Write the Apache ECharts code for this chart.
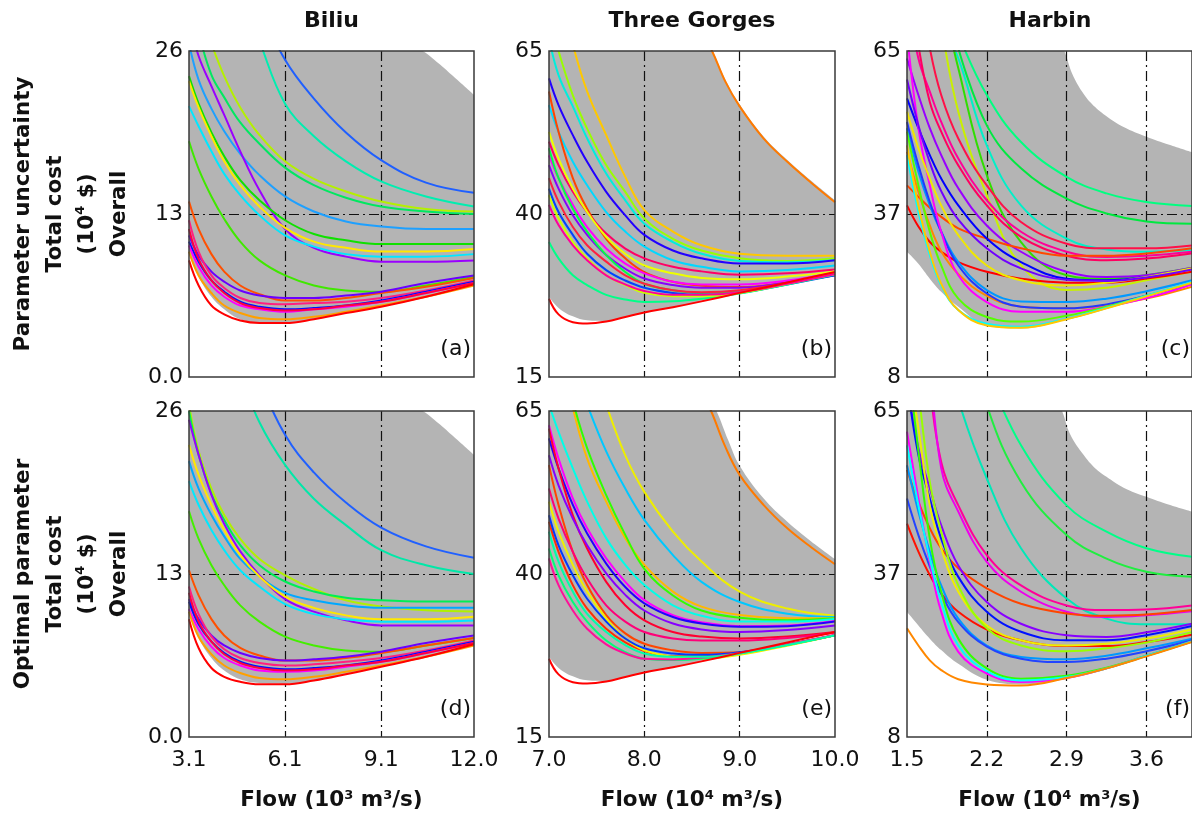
<!DOCTYPE html>
<html><head><meta charset="utf-8">
<script src="https://cdn.jsdelivr.net/npm/echarts@6/dist/echarts.min.js"></script>
<style>html,body{margin:0;padding:0;background:#fff}#c{width:1192px;height:816px}</style>
</head><body><div id="c"></div><script>
const FONT = '"DejaVu Sans", "Liberation Sans", Arial, sans-serif';

// ---------- sampling positions (flow) ----------
const biliuX  = [3.1, 3.4, 3.8, 4.2, 4.7, 5.3, 6.1, 7.0, 8.0, 9.1, 10.5, 12.0];
const gorgesX = [7.0, 7.1, 7.25, 7.4, 7.6, 7.8, 8.0, 8.3, 8.6, 9.0, 9.5, 10.0];
const harbinX = [1.5, 1.6, 1.7, 1.8, 1.95, 2.2, 2.5, 2.9, 3.25, 3.6, 4.0];

// ---------- tick labels / reference lines ----------
const biliuXTicks = [3.1, 6.1, 9.1, 12.0];
const gorgesXTicks = [7.0, 8.0, 9.0, 10.0];
const harbinXTicks = [1.5, 2.2, 2.9, 3.6];
const biliuXGrid = [6.1, 9.1];
const gorgesXGrid = [8.0, 9.0];
const harbinXGrid = [2.2, 2.9, 3.6];
const biliuYTicks = [0, 13, 26];
const gorgesYTicks = [15, 40, 65];
const harbinYTicks = [8, 36.5, 65];
const biliuYGrid = [13];
const gorgesYGrid = [40];
const harbinYGrid = [36.5];

// ---------- uncertainty bands ----------
const bandLowA = [9.9, 8.0, 6.4, 5.4, 4.6, 4.35, 4.35, 4.6, 5.1, 5.6, 6.4, 7.3];
const bandUpXA = [3.1, 9.0, 10.4, 10.9, 11.3, 12.0];
const bandUpA  = [40, 28, 26, 25.0, 24.1, 22.5];
const bandLowB = [27.3, 25.6, 24.3, 23.7, 23.6, 24.2, 24.9, 25.7, 26.6, 27.9, 29.5, 31.1];
const bandUpXB = [7.0, 8.6, 8.71, 8.85, 9.0, 9.25, 9.5, 9.75, 10.0];
const bandUpB  = [70, 67.8, 65.2, 60.6, 56.8, 51.9, 48.3, 45.1, 42.1];
const bandLowC = [29.9, 27.8, 25.2, 22.9, 20.3, 17.0, 16.5, 18.0, 19.9, 22.0, 24.4];
const bandUpXC = [1.5, 2.8, 2.88, 2.95, 3.05, 3.15, 3.25, 3.4, 3.6, 3.8, 4.0];
const bandUpC  = [80, 68, 65, 61, 57.5, 55.2, 53.6, 51.7, 50.0, 48.6, 47.3];
const bandLowD = [9.9, 7.9, 6.3, 5.3, 4.6, 4.3, 4.25, 4.5, 5.0, 5.6, 6.4, 7.3];
const bandUpXD = [3.1, 9.0, 10.4, 10.9, 11.3, 12.0];
const bandUpD  = [40, 28, 26, 25.0, 24.1, 22.5];
const bandLowE = [27.3, 25.6, 24.3, 23.7, 23.6, 24.2, 24.9, 25.7, 26.6, 27.9, 29.5, 31.1];
const bandUpXE = [7.0, 8.65, 8.75, 8.88, 9.0, 9.25, 9.5, 9.75, 10.0];
const bandUpE  = [70, 67.5, 65.2, 60.5, 56.6, 51.6, 48.0, 45.0, 42.3];
const bandLowF = [29.9, 27.5, 25.2, 23.2, 20.8, 18.0, 17.2, 18.2, 19.9, 22.0, 24.5];
const bandUpXF = [1.5, 2.78, 2.86, 2.93, 3.05, 3.15, 3.25, 3.4, 3.6, 3.8, 4.0];
const bandUpF  = [80, 68, 65, 61, 57.3, 55.0, 53.5, 51.6, 50.0, 48.6, 47.4];

// ---------- (a) Biliu, parameter uncertainty ----------
const colorsA = ['#1f5fff','#00eeb0','#b4f000','#00e860','#1ea0ff','#9a00ff','#10e000','#ffe800','#00e8ff','#40e800',
                 '#ff5000','#6a00ff','#ff2080','#0010ff','#ff00ff','#ff0040','#ffa000','#ff0000'];
const valuesA = [
  [null,null,null,null,34,29.6,25.3,22.2,19.5,17.3,15.5,14.7],
  [null,null,null,null,31,26.8,21.8,19.2,17.2,15.6,14.4,13.6],
  [null,null,26.6,24.0,21.5,19.3,17.2,15.8,14.8,14.0,13.4,13.2],
  [null,27.5,24.1,22.3,20.3,18.6,16.7,15.3,14.3,13.6,13.2,13.0],
  [26.6,23.7,21.4,19.6,17.8,16.1,14.4,13.2,12.4,12.0,11.8,11.8],
  [28.5,25.6,23.2,20.9,18.0,14.9,11.8,10.3,9.6,9.2,9.2,9.3],
  [24.0,21.8,19.5,17.6,15.7,14.1,12.5,11.4,10.9,10.6,10.6,10.6],
  [23.6,21.5,19.2,17.2,15.3,13.6,11.9,10.8,10.3,10.0,10.0,10.2],
  [21.6,20.0,18.0,16.2,14.5,12.9,11.3,10.4,9.8,9.6,9.6,9.8],
  [18.8,16.6,14.4,12.6,10.8,9.3,8.1,7.3,6.9,6.8,7.3,8.0],
  [14.0,11.8,9.8,8.4,7.3,6.6,6.1,6.1,6.3,6.7,7.2,7.9],
  [11.3,9.7,8.4,7.6,6.9,6.5,6.3,6.3,6.5,6.8,7.5,8.1],
  [12.5,10.0,8.1,7.1,6.3,5.9,5.8,5.9,6.0,6.3,6.9,7.7],
  [10.8,9.2,7.7,6.8,6.0,5.6,5.4,5.5,5.7,6.1,6.8,7.6],
  [10.5,8.8,7.3,6.4,5.7,5.4,5.2,5.4,5.6,6.0,6.7,7.5],
  [11.8,9.4,7.7,6.7,5.9,5.5,5.3,5.4,5.7,6.0,6.7,7.5],
  [10.0,8.1,6.7,5.7,5.1,4.7,4.6,4.8,5.2,5.7,6.4,7.3],
  [9.3,7.3,5.7,5.0,4.5,4.3,4.3,4.6,5.1,5.6,6.4,7.4]
];

// ---------- (b) Three Gorges, parameter uncertainty ----------
const colorsB = ['#ffc800','#99ff00','#00eedd','#2200ff','#00d8ff','#ff4400','#ff0066','#eeff00','#ff00ff','#8800ff',
                 '#00ff44','#0044ff','#00ff88','#ff2040','#ccff00','#ff0099','#ff0000'];
const valuesB = [
  [null,null,66,58.8,52.1,45.7,40.6,37.3,35.2,33.9,33.6,33.6],
  [null,65,58.2,53.1,47.5,43.4,39.3,36.2,34.4,33.2,32.8,33.2],
  [67,61.3,56.5,51.6,46.2,42.1,38.5,35.7,33.9,32.8,32.6,32.9],
  [60.8,56.7,52.1,48.0,43.4,39.8,36.8,34.4,33.2,32.4,32.4,32.9],
  [56.7,52.6,48.0,44.4,40.3,37.3,35.0,32.9,31.9,31.2,31.4,32.1],
  [58.8,52.6,45.5,40.8,36.2,33.2,31.1,29.6,29.0,28.8,29.5,30.6],
  [51.1,47.5,43.4,40.3,37.0,34.7,33.2,31.9,31.2,30.7,30.9,31.5],
  [52.6,48.5,43.9,40.3,36.5,33.9,32.1,30.9,30.2,30.0,30.4,31.2],
  [49.0,45.5,41.4,38.0,34.7,32.4,30.9,29.6,29.2,29.2,29.8,31.0],
  [47.5,43.9,39.8,36.8,33.7,31.6,30.1,29.1,28.7,28.7,29.5,30.6],
  [50.1,45.5,40.8,37.3,33.7,31.1,29.3,28.3,27.9,28.2,29.3,30.7],
  [43.9,40.3,36.8,33.9,31.4,29.8,28.7,27.9,27.6,27.9,29.2,30.6],
  [35.7,33.2,30.6,29.1,27.6,26.9,26.5,26.6,27.0,27.8,29.2,30.7],
  [45.5,41.9,38.0,35.2,32.7,30.6,29.3,28.3,28.0,28.3,29.4,30.9],
  [42.9,39.3,35.7,33.2,30.6,29.1,27.9,27.4,27.4,27.9,29.3,30.8],
  [41.4,38.3,35.2,32.9,30.6,29.2,28.2,27.6,27.6,28.0,29.3,30.8],
  [27.0,24.6,23.4,23.2,23.5,24.2,24.9,25.7,26.6,27.9,29.5,31.1]
];
const edgeXB = [8.6, 8.71, 8.85, 9.0, 9.25, 9.5, 9.75, 10.0];
const edgeYB = [67.8, 65.0, 60.3, 56.5, 51.6, 48.0, 44.8, 41.8];

// ---------- (c) Harbin, parameter uncertainty ----------
const colorsC = ['#00ff80','#00e840','#00f0c8','#c8f000','#30dd00','#ff1048','#ff0098','#ff0060','#9900ff','#ff4800',
                 '#ff0000','#0000ff','#ff8800','#0098ff','#2238ff','#ff00ff','#55ff00','#00ffff','#ffc800','#f0e800','#7000ff'];
const valuesC = [
  [null,null,null,null,68,57.3,49.1,43.0,40.1,38.6,37.9],
  [null,null,null,null,65.5,52.0,44.5,39.2,36.6,35.2,34.8],
  [null,null,null,70,63.7,48.5,38.0,32.2,30.3,29.9,30.2],
  [null,null,null,70,54.4,39.8,27.5,23.2,23.6,24.9,26.4],
  [null,null,null,75,62,43.3,31.6,25.8,25.2,25.8,27.1],
  [null,78,65.5,57.3,49.7,41.5,35.1,31.3,30.5,30.5,31.0],
  [75,63.7,57.9,52.6,46.2,38.9,33.4,29.9,29.0,29.2,29.9],
  [80,66,56.1,50.9,45.0,38.0,32.5,29.2,28.4,28.7,29.6],
  [63.7,57.3,51.5,46.8,41.0,34.5,29.9,26.4,25.5,25.8,27.1],
  [41.5,39.5,37.6,36.0,34.0,32.2,30.5,29.2,29.2,29.6,30.5],
  [38.0,34.3,31.6,29.9,28.1,26.4,25.2,24.5,24.5,25.2,26.4],
  [56.7,51.5,46.8,42.7,38.0,32.2,28.1,25.2,24.9,25.5,27.0],
  [47.4,40.4,34.5,30.0,26.0,22.2,20.3,20.0,20.5,21.7,23.8],
  [51.5,43.9,38.0,33.4,28.1,23.2,21.2,21.1,21.7,23.0,24.9],
  [52.6,45.0,38.6,33.4,27.5,22.6,20.3,20.0,20.7,22.2,24.3],
  [68,51.5,41.5,33.4,25.8,21.1,19.4,19.4,20.3,21.8,24.2],
  [50.9,41.5,33.4,27.5,21.7,18.5,17.7,18.7,20.3,22.2,24.5],
  [46.8,36.9,29.3,24.0,19.7,17.3,16.8,18.2,20.1,22.2,24.6],
  [48.5,38.0,29.9,24.3,19.7,17.0,16.6,18.1,20.0,22.1,24.5],
  [54.4,48.0,42.7,38.0,32.8,27.5,24.9,24.0,24.5,25.5,27.0],
  [60,52,45.5,40.5,35.5,30.5,27.0,25.0,24.8,25.4,26.8]
];

// ---------- (d) Biliu, optimal parameter ----------
const colorsD = ['#2060ff','#00e8a8','#b0f000','#00ee55','#00a8ff','#9900ff','#ffe800','#00e8ff','#44ee00',
                 '#ff5000','#6a00ff','#ff2080','#0010ff','#ff00ff','#ff0040','#ffa000','#ff0000'];
const valuesD = [
  [null,null,null,null,null,28.5,24.1,21.1,18.7,16.7,15.2,14.3],
  [null,null,null,null,29,25.1,21.7,19.0,16.9,14.9,13.7,13.0],
  [26.5,22.8,19.8,17.7,15.8,14.2,12.9,11.8,10.9,10.4,10.1,10.0],
  [26.0,22.5,19.4,17.3,15.3,13.7,12.4,11.6,11.1,10.9,10.8,10.8],
  [22.0,19.8,17.7,16.0,14.2,12.8,11.5,10.9,10.5,10.3,10.3,10.3],
  [25.3,22.5,19.3,17.0,14.8,12.9,11.0,10.0,9.3,8.9,8.9,8.9],
  [23.3,20.9,18.5,16.5,14.5,12.8,11.2,10.3,9.7,9.4,9.4,9.6],
  [20.4,18.5,16.5,14.9,13.3,12.0,10.6,9.8,9.4,9.2,9.2,9.3],
  [18.0,15.8,13.7,12.1,10.5,9.2,8.0,7.3,6.9,6.8,7.3,7.9],
  [13.3,11.3,9.4,8.1,7.1,6.5,6.1,6.1,6.3,6.7,7.3,7.9],
  [11.0,9.4,8.1,7.3,6.7,6.3,6.1,6.2,6.4,6.8,7.5,8.1],
  [12.0,9.8,8.0,7.0,6.3,5.9,5.7,5.8,6.0,6.3,6.9,7.7],
  [10.8,9.0,7.6,6.7,6.0,5.6,5.4,5.5,5.7,6.1,6.8,7.6],
  [10.2,8.6,7.2,6.3,5.7,5.3,5.2,5.3,5.6,6.0,6.7,7.5],
  [11.5,9.2,7.6,6.6,5.9,5.5,5.3,5.4,5.7,6.0,6.7,7.5],
  [10.0,8.0,6.6,5.7,5.1,4.7,4.6,4.8,5.2,5.7,6.4,7.3],
  [9.4,7.1,5.5,4.8,4.4,4.2,4.2,4.5,5.0,5.6,6.4,7.4]
];

// ---------- (e) Three Gorges, optimal parameter ----------
const colorsE = ['#eeee00','#00c8ff','#ffb800','#30ff00','#00ffe8','#ff00ff','#2200ff','#ff0030','#8800ff','#ff4400',
                 '#ff3000','#ff0078','#f0f000','#0038ff','#00ff78','#ff1098','#00ffa8','#ff0000'];
const valuesE = [
  [null,null,null,null,66,58.2,52.6,46.5,41.9,37.3,34.7,33.6],
  [null,null,null,66,58.8,53.1,48.3,42.9,38.8,35.7,33.9,33.4],
  [null,75,65.5,57.7,51.1,45.5,41.4,37.3,35.0,33.7,33.2,33.2],
  [null,75,66.5,59.3,52.1,46.0,40.8,36.7,34.4,33.3,32.9,33.2],
  [66,61.8,56.2,51.1,45.5,41.4,38.3,35.2,33.6,32.7,32.7,33.1],
  [62.8,57.7,51.6,47.0,42.4,38.8,36.0,33.7,32.6,32.0,32.1,32.8],
  [60.8,56.2,50.6,46.2,41.6,38.0,35.5,33.4,32.4,31.9,32.0,32.7],
  [62.3,56.2,49.0,43.9,38.8,35.2,32.9,31.1,30.4,30.1,30.4,31.1],
  [58.2,53.6,48.5,44.4,40.1,36.8,34.4,32.4,31.5,31.1,31.4,32.1],
  [56.7,50.6,43.4,38.3,33.7,30.9,29.3,28.3,27.9,28.0,29.2,30.6],
  [48.0,43.4,38.3,34.7,31.6,29.5,28.2,27.4,27.4,27.8,29.1,30.6],
  [53.1,48.5,43.4,39.3,35.2,32.7,31.1,30.1,29.8,29.8,30.2,31.0],
  [51.1,46.5,41.4,37.3,33.2,30.1,28.3,27.3,27.0,27.6,29.0,30.6],
  [49.0,44.4,39.8,36.2,32.7,30.1,28.6,27.8,27.6,28.0,29.2,30.6],
  [43.9,39.8,35.7,32.7,29.8,28.0,27.0,26.8,27.0,27.8,29.1,30.6],
  [42.4,38.3,34.4,31.6,29.2,27.8,27.0,26.9,27.2,27.9,29.2,30.7],
  [46.5,41.9,37.3,33.9,31.1,29.1,27.8,27.3,27.3,27.8,29.1,30.6],
  [27.0,24.6,23.4,23.2,23.5,24.2,24.9,25.7,26.6,27.9,29.5,31.1]
];
const edgeXE = [8.6, 8.7, 8.85, 9.0, 9.25, 9.5, 9.75, 10.0];
const edgeYE = [67.8, 65.0, 59.5, 55.2, 50.6, 47.0, 44.1, 41.5];

// ---------- (f) Harbin, optimal parameter ----------
const colorsF = ['#00ff88','#20ee40','#00e8b8','#ff0098','#ee00ee','#ff4400','#ff1100','#8800ff','#0011ff','#eeee00',
                 '#99ff00','#0098ff','#2244ff','#ff00ff','#33ff00','#00ffff','#ff8800'];
const valuesF = [
  [null,null,null,null,null,72,59.0,48.5,43.9,41.0,39.5],
  [null,null,null,null,85,66,52.6,43.3,39.2,36.9,36.0],
  [null,null,null,80,67,53.2,41.0,32.2,28.7,27.7,27.7],
  [null,null,70,56.1,48.5,39.8,34.5,31.0,30.2,30.3,31.0],
  [null,null,75,55.0,47.4,38.6,33.4,29.9,29.0,29.3,30.0],
  [54.7,49.1,44.5,41.0,37.5,34.0,31.3,29.6,29.2,29.4,30.2],
  [45.3,40.4,36.3,33.1,29.9,26.8,24.9,23.9,23.9,24.6,25.9],
  [70,58.5,51.5,45.0,38.0,31.6,27.8,25.8,25.5,26.3,27.8],
  [70,57.3,49.7,42.7,36.0,29.9,26.4,24.9,24.9,25.8,27.4],
  [75,62,48.5,41.0,33.4,27.5,24.9,24.0,24.3,25.2,26.8],
  [80,68,52.6,43.9,34.5,27.0,24.0,23.0,23.5,24.5,26.3],
  [55.5,47.4,40.4,34.5,28.7,24.0,22.0,21.6,22.2,23.5,25.2],
  [49.7,43.3,37.8,33.1,28.1,23.8,21.7,21.1,21.7,23.0,24.9],
  [61.4,49.7,38.6,29.9,22.9,19.1,17.6,18.3,20.0,22.2,24.7],
  [75,58,42.7,33.4,25.2,20.0,18.2,18.7,20.1,22.2,24.7],
  [59.0,48.5,39.2,31.6,24.0,19.5,17.9,18.5,20.0,22.2,24.7],
  [27.0,24.0,21.4,19.7,18.1,17.2,17.0,18.3,20.0,22.1,24.6]
];

// ---------- layout ----------
const COLS = [189, 549, 907];
const WIDTHS = [285, 286, 286];
const ROWS = [51, 411];
const H = 326;
const stations = ['Biliu', 'Three Gorges', 'Harbin'];
const rowTitles = ['Parameter uncertainty', 'Optimal parameter'];
const letters = ['(a)','(b)','(c)','(d)','(e)','(f)'];

const fmt1 = v => v.toFixed(1);
const stationCfg = [
  {x: biliuX, xr: [3.1, 12.0], yr: [0, 26], xt: biliuXTicks, xg: biliuXGrid, yt: biliuYTicks, yg: biliuYGrid,
   yf: v => (v === 0 ? '0.0' : String(v)), unit: '3'},
  {x: gorgesX, xr: [7.0, 10.0], yr: [15, 65], xt: gorgesXTicks, xg: gorgesXGrid, yt: gorgesYTicks, yg: gorgesYGrid,
   yf: v => String(v), unit: '4'},
  {x: harbinX, xr: [1.5, 4.0], yr: [8, 65], xt: harbinXTicks, xg: harbinXGrid, yt: harbinYTicks, yg: harbinYGrid,
   yf: v => String(Math.round(v)), unit: '4'}
];
const panels = [
  {colors: colorsA, values: valuesA, low: bandLowA, upX: bandUpXA, up: bandUpA},
  {colors: colorsB, values: valuesB, low: bandLowB, upX: bandUpXB, up: bandUpB, edgeX: edgeXB, edgeY: edgeYB},
  {colors: colorsC, values: valuesC, low: bandLowC, upX: bandUpXC, up: bandUpC},
  {colors: colorsD, values: valuesD, low: bandLowD, upX: bandUpXD, up: bandUpD},
  {colors: colorsE, values: valuesE, low: bandLowE, upX: bandUpXE, up: bandUpE, edgeX: edgeXE, edgeY: edgeYE},
  {colors: colorsF, values: valuesF, low: bandLowF, upX: bandUpXF, up: bandUpF}
];

const pairs = (xs, ys) => xs.map((x, i) => [x, ys[i]]).filter(p => p[1] !== null);

const grids = [], xAxes = [], yAxes = [], series = [], graphics = [];
const gridLineStyle = {color: '#111', width: 1.2, type: [10, 4, 2, 4]};
const labelStyle = {fontFamily: FONT, fontSize: 22, color: '#111'};
const SMOOTH = 0.4;

panels.forEach((p, k) => {
  const col = k % 3, row = Math.floor(k / 3);
  const s = stationCfg[col];
  grids.push({left: COLS[col], top: ROWS[row], width: WIDTHS[col], height: H,
    show: true, borderColor: '#3a3a3a', borderWidth: 1.5, backgroundColor: 'rgba(0,0,0,0)', z: 10});
  xAxes.push({
    type: 'value', gridIndex: k, min: s.xr[0], max: s.xr[1], z: 3,
    axisLine: {show: false},
    axisTick: {show: false, customValues: s.xg},
    splitLine: {show: true, lineStyle: gridLineStyle},
    axisLabel: Object.assign({show: row === 1, customValues: s.xt, formatter: fmt1, margin: 12}, labelStyle),
    name: row === 1 ? '{b|Flow (10}{s|' + s.unit + '}{b| m}{s|3}{b|/s)}' : '',
    nameLocation: 'middle', nameGap: 52,
    nameTextStyle: {rich: {
      b: {fontFamily: FONT, fontSize: 21.5, fontWeight: 'bold', color: '#111'},
      s: {fontFamily: FONT, fontSize: 13, fontWeight: 'bold', color: '#111', verticalAlign: 'top'}
    }}
  });
  yAxes.push({
    type: 'value', gridIndex: k, min: s.yr[0], max: s.yr[1], z: 3,
    axisLine: {show: false},
    axisTick: {show: false, customValues: s.yg},
    splitLine: {show: true, lineStyle: gridLineStyle},
    axisLabel: Object.assign({customValues: s.yt, formatter: s.yf, margin: 6}, labelStyle)
  });
  // band: grey up to the upper envelope, white below the lower envelope
  series.push({type: 'line', xAxisIndex: k, yAxisIndex: k, data: pairs(p.upX, p.up), smooth: SMOOTH,
    symbol: 'none', silent: true, z: 1, lineStyle: {width: 0, opacity: 0},
    areaStyle: {color: '#b4b4b4', opacity: 1, origin: 'start'}});
  series.push({type: 'line', xAxisIndex: k, yAxisIndex: k, data: pairs(s.x, p.low), smooth: SMOOTH,
    symbol: 'none', silent: true, z: 1, lineStyle: {width: 0, opacity: 0},
    areaStyle: {color: '#ffffff', opacity: 1, origin: 'start'}});
  if (p.edgeX) {
    series.push({type: 'line', xAxisIndex: k, yAxisIndex: k, data: pairs(p.edgeX, p.edgeY), smooth: SMOOTH,
      symbol: 'none', silent: true, z: 5, lineStyle: {width: 2, color: '#ff7a00'}});
  }
  p.values.forEach((ys, i) => {
    series.push({type: 'line', xAxisIndex: k, yAxisIndex: k, data: pairs(s.x, ys), smooth: SMOOTH,
      symbol: 'none', silent: true, z: 5, lineStyle: {width: 2, color: p.colors[i]}});
  });
  graphics.push({type: 'text', x: COLS[col] + WIDTHS[col] - 3, y: ROWS[row] + H - 28, z: 20,
    style: {text: letters[k], fontFamily: FONT, fontSize: 22, fill: '#111', align: 'right', verticalAlign: 'middle'}});
});

stations.forEach((t, c) => {
  graphics.push({type: 'text', x: COLS[c] + WIDTHS[c] / 2, y: 21, z: 20,
    style: {text: t, fontFamily: FONT, fontSize: 22, fontWeight: 'bold', fill: '#111', align: 'center', verticalAlign: 'middle'}});
});
rowTitles.forEach((t, r) => {
  graphics.push({type: 'text', x: 71.5, y: ROWS[r] + H / 2, rotation: Math.PI / 2, z: 20,
    style: {
      text: '{b|' + t + '}\n{b|Total cost}\n{b|(10}{s|4}{b| $)}\n{b|Overall}',
      align: 'center', verticalAlign: 'middle',
      rich: {
        b: {fontFamily: FONT, fontSize: 21.5, fontWeight: 'bold', fill: '#111', lineHeight: 32},
        s: {fontFamily: FONT, fontSize: 13, fontWeight: 'bold', fill: '#111', verticalAlign: 'top', padding: [3, 0, 0, 0]}
      }
    }});
});

const chart = echarts.init(document.getElementById('c'), null, {renderer: 'canvas'});
chart.setOption({
  animation: false,
  backgroundColor: '#ffffff',
  grid: grids, xAxis: xAxes, yAxis: yAxes, series: series, graphic: graphics
});
</script></body></html>
